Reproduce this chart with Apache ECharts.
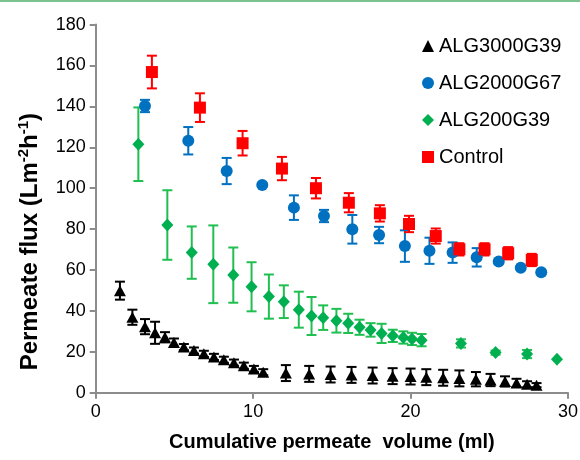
<!DOCTYPE html>
<html>
<head>
<meta charset="utf-8">
<script src="https://cdn.jsdelivr.net/npm/echarts@6/dist/echarts.min.js"></script>
<style>
html,body{margin:0;padding:0;background:#fff;}
#c{width:580px;height:460px;}
</style>
</head>
<body>
<div id="c"></div>
<script>
// ---- data ----
const seriesNames = ['ALG3000G39', 'ALG2000G67', 'ALG200G39', 'Control'];

const blackX = [1.54, 2.33, 3.13, 3.77, 4.4, 4.97, 5.6, 6.24, 6.87, 7.51, 8.14, 8.78, 9.41, 10.05, 10.64, 12.08, 13.56, 14.92, 16.25, 17.59, 18.86, 20.0, 21.0, 22.07, 23.1, 24.15, 25.08, 26.0, 26.73, 27.4, 28.0];
const blackY = [49.9, 36.9, 32.3, 29.3, 27.1, 24.5, 22.3, 20.6, 19.0, 17.5, 16.1, 14.7, 13.2, 11.6, 10.0, 9.6, 9.2, 8.9, 8.7, 8.4, 8.1, 7.9, 7.6, 7.3, 7.0, 6.6, 6.2, 5.5, 4.8, 4.1, 3.7];
const blackE = [4.4, 3.7, 3.7, 5.4, 2.5, 2.0, 1.5, 1.5, 1.5, 1.5, 1.5, 1.5, 1.5, 1.5, 1.5, 3.9, 3.9, 3.9, 3.9, 3.9, 3.9, 3.9, 3.9, 3.9, 3.9, 3.5, 3.0, 2.5, 2.0, 1.5, 1.0];

const blueX = [3.13, 5.88, 8.32, 10.58, 12.59, 14.5, 16.3, 18.0, 19.64, 21.2, 22.67, 24.2, 25.6, 27.0, 28.3];
const blueY = [140.2, 123.2, 108.4, 101.6, 90.5, 86.4, 79.9, 77.1, 71.7, 69.4, 68.5, 66.2, 64.1, 61.1, 58.9];
const blueE = [3, 6.7, 6.4, 1, 6, 3, 7, 4, 7.7, 6.4, 5, 4.5, 1, 0, 0];

const greenX = [2.71, 4.55, 6.1, 7.47, 8.74, 9.9, 11.0, 11.95, 12.9, 13.71, 14.45, 15.29, 16.04, 16.76, 17.46, 18.16, 18.87, 19.54, 20.09, 20.7, 23.2, 25.4, 27.4, 29.3];
const greenY = [121.5, 82, 68.5, 62.8, 57.5, 51.8, 47, 44.5, 40.6, 37.5, 36.7, 35.2, 33.9, 32.0, 30.7, 29.0, 27.8, 27.0, 26.3, 25.7, 24.1, 19.6, 18.9, 16.3];
const greenE = [18, 17, 12.8, 19, 13.5, 12, 10.8, 8, 8.8, 9.3, 6, 5.8, 4.7, 3.7, 3.3, 4.7, 3, 3, 3, 3, 2, 1, 2, 0];

const redX = [3.57, 6.62, 9.33, 11.83, 13.99, 16.08, 18.05, 19.9, 21.6, 23.1, 24.7, 26.2, 27.7];
const redY = [156.8, 139.4, 122, 109.6, 100, 92.9, 87.7, 82.5, 76.6, 70.1, 70.1, 68.2, 64.9];
const redE = [8, 7, 6, 5.7, 5, 4.7, 4, 4, 3.7, 3, 3, 3, 3];

const xTicks = [0, 10, 20, 30];
const yTicks = [0, 20, 40, 60, 80, 100, 120, 140, 160, 180];

// ---- build ----
const zip = (xs, ys) => xs.map((x, i) => [x, ys[i]]);
const zipErr = (xs, ys, es) => xs.map((x, i) => [x, ys[i] - es[i], ys[i] + es[i], es[i]]);

function errSeries(id, xs, ys, es, color) {
  return {
    type: 'custom',
    name: id,
    z: 2,
    silent: true,
    data: zipErr(xs, ys, es),
    renderItem: function (params, api) {
      if (api.value(3) <= 0) return null;
      const lo = api.coord([api.value(0), api.value(1)]);
      const hi = api.coord([api.value(0), api.value(2)]);
      const hw = 5;
      const st = { stroke: color, lineWidth: 2 };
      return {
        type: 'group',
        children: [
          { type: 'line', shape: { x1: lo[0], y1: lo[1], x2: hi[0], y2: hi[1] }, style: st },
          { type: 'line', shape: { x1: lo[0] - hw, y1: lo[1], x2: lo[0] + hw, y2: lo[1] }, style: st },
          { type: 'line', shape: { x1: hi[0] - hw, y1: hi[1], x2: hi[0] + hw, y2: hi[1] }, style: st }
        ]
      };
    }
  };
}

const FONT = '"Liberation Sans", Arial, sans-serif';
const axisGray = '#8c8c8c';

const chart = echarts.init(document.getElementById('c'), null, { renderer: 'canvas' });
chart.setOption({
  animation: false,
  backgroundColor: '#fff',
  textStyle: { fontFamily: FONT },
  graphic: [
    { type: 'rect', left: 0, top: 0, shape: { width: 580, height: 2 }, style: { fill: '#7cc48f' }, z: 100 }
  ],
  grid: { left: 95.7, right: 12, top: 24.6, bottom: 67.3, containLabel: false, outerBoundsMode: 'none' },
  legend: {
    data: seriesNames,
    orient: 'vertical',
    left: 417,
    top: 31,
    itemWidth: 12,
    itemHeight: 12,
    itemGap: 17,
    textStyle: { fontSize: 20, color: '#000', fontFamily: FONT }
  },
  xAxis: {
    type: 'value',
    min: xTicks[0],
    max: xTicks[xTicks.length - 1],
    interval: 10,
    name: 'Cumulative permeate  volume (ml)',
    nameLocation: 'middle',
    nameGap: 40,
    nameTextStyle: { fontSize: 20, fontWeight: 'bold', color: '#000', fontFamily: FONT },
    axisLine: { show: true, onZero: false, lineStyle: { color: axisGray, width: 2 } },
    axisTick: { show: true, inside: false, length: 6, lineStyle: { color: axisGray, width: 2 } },
    axisLabel: { fontSize: 18, color: '#000', margin: 10, fontFamily: FONT },
    splitLine: { show: false }
  },
  yAxis: {
    type: 'value',
    min: yTicks[0],
    max: yTicks[yTicks.length - 1],
    interval: 20,
    name: '{b|Permeate flux (Lm}{s|-2}{b|h}{s|-1}{b|)}',
    nameLocation: 'middle',
    nameGap: 53,
    nameRotate: 90,
    nameTextStyle: {
      fontSize: 24, fontWeight: 'bold', color: '#000', fontFamily: FONT,
      padding: [0, 66, 0, 0],
      rich: {
        b: { fontSize: 24, fontWeight: 'bold', color: '#000', fontFamily: FONT, verticalAlign: 'bottom', lineHeight: 26 },
        s: { fontSize: 15, fontWeight: 'bold', color: '#000', fontFamily: FONT, verticalAlign: 'top', lineHeight: 26 }
      }
    },
    axisLine: { show: true, onZero: false, lineStyle: { color: axisGray, width: 2 } },
    axisTick: { show: true, inside: false, length: 6, lineStyle: { color: axisGray, width: 2 } },
    axisLabel: { fontSize: 18, color: '#000', margin: 10, fontFamily: FONT },
    splitLine: { show: false }
  },
  series: [
    errSeries('errBlack', blackX, blackY, blackE, '#000000'),
    errSeries('errBlue', blueX, blueY, blueE, '#0070c0'),
    errSeries('errGreen', greenX, greenY, greenE, '#1fbf50'),
    errSeries('errRed', redX, redY, redE, '#ff0000'),
    {
      type: 'scatter', name: seriesNames[0], symbol: 'triangle', symbolSize: [12, 11], z: 3,
      itemStyle: { color: '#000000', opacity: 1 }, data: zip(blackX, blackY)
    },
    {
      type: 'scatter', name: seriesNames[1], symbol: 'circle', symbolSize: 12, z: 3,
      itemStyle: { color: '#0070c0', opacity: 1 }, data: zip(blueX, blueY)
    },
    {
      type: 'scatter', name: seriesNames[2], symbol: 'diamond', symbolSize: [12, 13], z: 3,
      itemStyle: { color: '#00b050', opacity: 1 }, data: zip(greenX, greenY)
    },
    {
      type: 'scatter', name: seriesNames[3], symbol: 'rect', symbolSize: 12, z: 4,
      itemStyle: { color: '#ff0000', opacity: 1 }, data: zip(redX, redY)
    }
  ]
});
</script>
</body>
</html>
